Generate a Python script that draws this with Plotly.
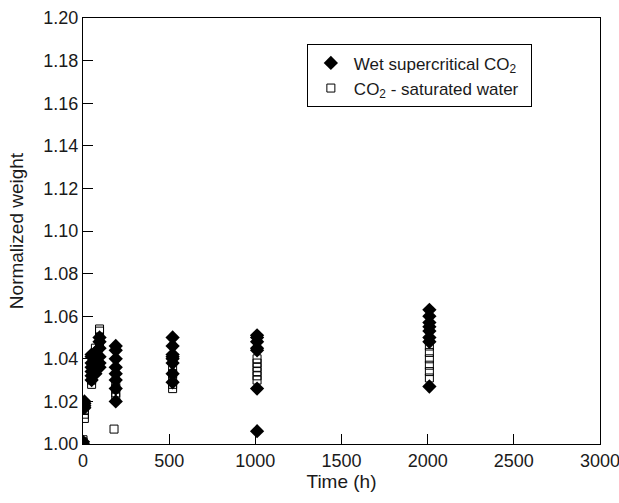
import plotly.graph_objects as go

# Wet supercritical CO2 (filled diamonds)
wet_t = [0, 0,
         8, 8, 8, 8,
         50, 50, 50, 50, 50, 50, 50,
         72, 72, 72, 72, 72,
         96, 96, 96, 96, 96, 96,
         190, 190, 190, 190, 190, 190, 190, 190,
         520, 520, 520, 520, 520, 520, 520, 520,
         1010, 1010, 1010, 1010, 1010, 1010, 1010,
         2010, 2010, 2010, 2010, 2010, 2010, 2010, 2010]
wet_w = [1.000, 1.001,
         1.017, 1.018, 1.019, 1.020,
         1.030, 1.032, 1.034, 1.036, 1.038, 1.041, 1.042,
         1.033, 1.036, 1.038, 1.040, 1.043,
         1.036, 1.038, 1.041, 1.045, 1.048, 1.050,
         1.046, 1.044, 1.040, 1.036, 1.033, 1.030, 1.026, 1.020,
         1.050, 1.046, 1.042, 1.041, 1.040, 1.038, 1.033, 1.029,
         1.051, 1.050, 1.048, 1.045, 1.044, 1.026, 1.006,
         1.063, 1.060, 1.057, 1.055, 1.053, 1.050, 1.048, 1.027]

# CO2-saturated water (open squares)
sat_t = [0, 0,
         8, 8, 8, 8,
         50, 50, 50,
         72, 72, 72,
         96, 96, 96, 96,
         180,
         190, 190, 190, 190,
         520, 520, 520, 520, 520,
         1010, 1010, 1010, 1010, 1010, 1010,
         2010, 2010, 2010, 2010, 2010, 2010]
sat_w = [1.002, 1.001,
         1.012, 1.014, 1.016, 1.018,
         1.028, 1.030, 1.032,
         1.035, 1.040, 1.045,
         1.047, 1.050, 1.053, 1.054,
         1.007,
         1.022, 1.024, 1.026, 1.028,
         1.026, 1.028, 1.031, 1.033, 1.035,
         1.030, 1.032, 1.034, 1.036, 1.038, 1.040,
         1.031, 1.034, 1.037, 1.040, 1.043, 1.046]

x_ticks = [0, 500, 1000, 1500, 2000, 2500, 3000]
y_ticks = [1.00, 1.02, 1.04, 1.06, 1.08, 1.10, 1.12, 1.14, 1.16, 1.18, 1.20]

FONT = "Liberation Sans, Arial, sans-serif"
TXT = "#1a1a1a"

fig = go.Figure()
fig.add_trace(go.Scatter(
    x=wet_t, y=wet_w, mode="markers", name="Wet supercritical CO<sub>2</sub>  ",
    marker=dict(symbol="diamond", size=11, color="black", line=dict(width=0)),
))
fig.add_trace(go.Scatter(
    x=sat_t, y=sat_w, mode="markers", name="CO<sub>2</sub> - saturated water",
    marker=dict(symbol="square-open", size=8, color="black", line=dict(width=1)),
))

fig.update_layout(
    width=619, height=503,
    margin=dict(l=83, r=19, t=18, b=59),
    plot_bgcolor="white", paper_bgcolor="white",
    font=dict(family=FONT, size=17, color=TXT),
    showlegend=True,
    legend=dict(
        x=0.433, y=0.938, xanchor="left", yanchor="top",
        bordercolor="black", borderwidth=1, bgcolor="white",
        itemwidth=36,
        font=dict(family=FONT, size=17, color=TXT),
    ),
    xaxis=dict(
        range=[0, 3000], tickvals=x_ticks, ticks="inside", ticklen=10,
        tickcolor="black", linecolor="black", linewidth=1, mirror=True,
        showgrid=False, zeroline=False, ticklabeloverflow="allow", automargin=False,
        title=dict(text="Time (h)", standoff=0, font=dict(size=19)),
        tickfont=dict(size=18),
    ),
    yaxis=dict(
        range=[1.0, 1.2], tickvals=y_ticks, tickformat=".2f", ticks="inside", ticklen=10,
        tickcolor="black", linecolor="black", linewidth=1, mirror=True,
        showgrid=False, zeroline=False, ticklabeloverflow="allow", automargin=False,
        title=dict(text="Normalized weight", standoff=14, font=dict(size=19)),
        tickfont=dict(size=18),
    ),
)

fig.write_html("out.html")
